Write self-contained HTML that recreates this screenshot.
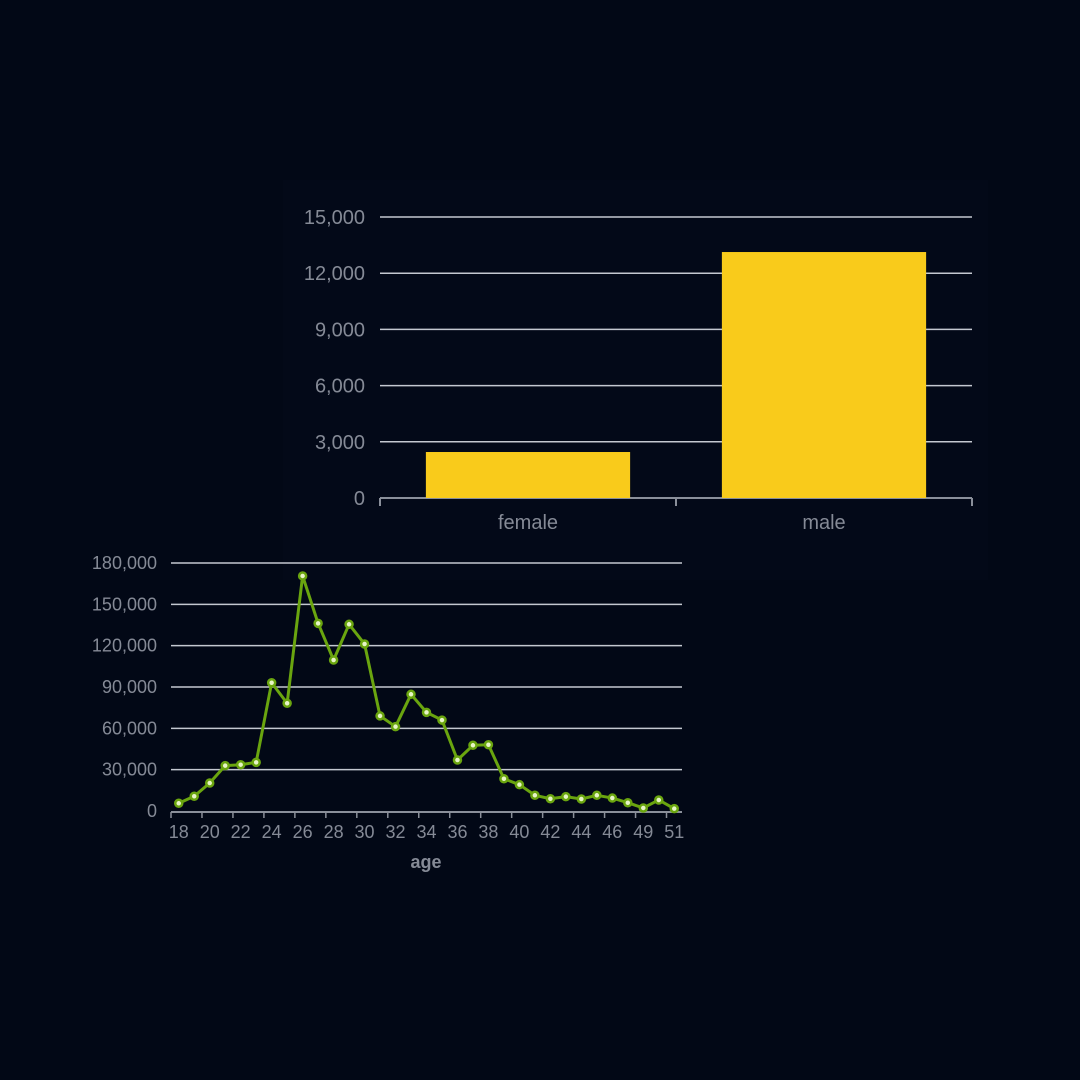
<!DOCTYPE html>
<html><head><meta charset="utf-8"><style>
html,body{margin:0;padding:0;background:#020816;}
svg{display:block;font-family:"Liberation Sans",sans-serif;}
</style></head><body>
<svg id="c" width="1080" height="1080">
<rect width="1080" height="1080" fill="#020816"/>
<rect x="283" y="180" width="705" height="400" fill="#030918"/>
<g id="bar"></g>
<g id="line"></g>
</svg>
<script>
const genderCats=["female","male"];
const genderVals=[2455,13130];
const barTicks=[0,3000,6000,9000,12000,15000];
const ageCats=[18,19,20,21,22,23,24,25,26,27,28,29,30,31,32,33,34,35,36,37,38,39,40,41,42,43,44,45,46,47,49,50,51];
const ageVals=[5600,10700,20300,32900,33600,35300,93100,78200,170600,136200,109600,135500,121200,69000,61200,84700,71600,66000,37000,47700,48100,23400,19100,11400,8900,10400,8700,11400,9400,6000,2200,8000,1700];
const lineTicks=[0,30000,60000,90000,120000,150000,180000];
const NS="http://www.w3.org/2000/svg";
function mk(p,t,a){const e=document.createElementNS(NS,t);for(const k in a)e.setAttribute(k,a[k]);p.appendChild(e);return e;}
const fmt=v=>v.toLocaleString("en-US");
// bar chart
(function(){
 const g=document.getElementById("bar");
 const x0=380,x1=972,y0=498,y1=217,max=15000;
 const ys=v=>y0-(v/max)*(y0-y1);
 const bw=(x1-x0)/genderCats.length;
 barTicks.forEach(t=>{
  if(t>0){const l=mk(g,"line",{x1:x0,x2:x1,y1:ys(t),y2:ys(t),stroke:"#c4c8d0","stroke-width":1.5});
  
  }
  const tx=mk(g,"text",{x:365,y:ys(t)+7,"text-anchor":"end","font-size":20,fill:"#858a96"});tx.textContent=fmt(t);
  
  
 });
 const ax=mk(g,"line",{x1:x0,x2:x1,y1:y0,y2:y0,stroke:"#8a8f9a","stroke-width":2});
 
 
 for(let i=0;i<=genderCats.length;i++){const t=mk(g,"line",{x1:x0+i*bw,x2:x0+i*bw,y1:y0,y2:y0+8,stroke:"#8a8f9a","stroke-width":2});
  
  }
 genderCats.forEach((c,i)=>{
  const w=bw*0.69,cx=x0+bw*(i+0.5);
  const r=mk(g,"rect",{x:cx-w/2,y:ys(genderVals[i]),width:w,height:y0-ys(genderVals[i]),fill:"#f9cb1b"});
  
  
  const tx=mk(g,"text",{x:cx,y:529,"text-anchor":"middle","font-size":20,fill:"#858a96"});tx.textContent=c;
  
  
 });
})();
// line chart
(function(){
 const g=document.getElementById("line");
 const x0=171,x1=682,y0=811,y1=563,max=180000;
 const ys=v=>y0-(v/max)*(y0-y1);
 const bw=(x1-x0)/ageCats.length;
 const xs=i=>x0+bw*(i+0.5);
 lineTicks.forEach(t=>{
  if(t>0){const l=mk(g,"line",{x1:x0,x2:x1,y1:ys(t),y2:ys(t),stroke:"#c4c8d0","stroke-width":1.5});
  
  }
  const tx=mk(g,"text",{x:157,y:ys(t)+6,"text-anchor":"end","font-size":18,fill:"#858a96"});tx.textContent=fmt(t);
  
  
 });
 const ax=mk(g,"line",{x1:x0,x2:x1,y1:y0+1,y2:y0+1,stroke:"#8a8f9a","stroke-width":2});
 
 
 for(let i=0;i<=ageCats.length;i+=2){const t=mk(g,"line",{x1:x0+i*bw,x2:x0+i*bw,y1:y0+1,y2:y0+7,stroke:"#8a8f9a","stroke-width":1.5});
  
  }
 ageCats.forEach((c,i)=>{if(i%2===0){
  const tx=mk(g,"text",{x:xs(i),y:838,"text-anchor":"middle","font-size":18,fill:"#858a96"});tx.textContent=c;
  
  }});
 const at=mk(g,"text",{x:426,y:868,"text-anchor":"middle","font-size":18,"font-weight":"bold",fill:"#858a96"});at.textContent="age";
 
 
 const pts=ageVals.map((v,i)=>xs(i)+","+ys(v)).join(" ");
 const pl=mk(g,"polyline",{points:pts,fill:"none",stroke:"#6aa50f","stroke-width":3,"stroke-linejoin":"round"});
 
 
 ageVals.forEach((v,i)=>{
  const c=mk(g,"circle",{cx:xs(i),cy:ys(v),r:3.5,fill:"#e8f5c8",stroke:"#6aa50f","stroke-width":2.5});
  
  
 });
})();
</script>
</body></html>
